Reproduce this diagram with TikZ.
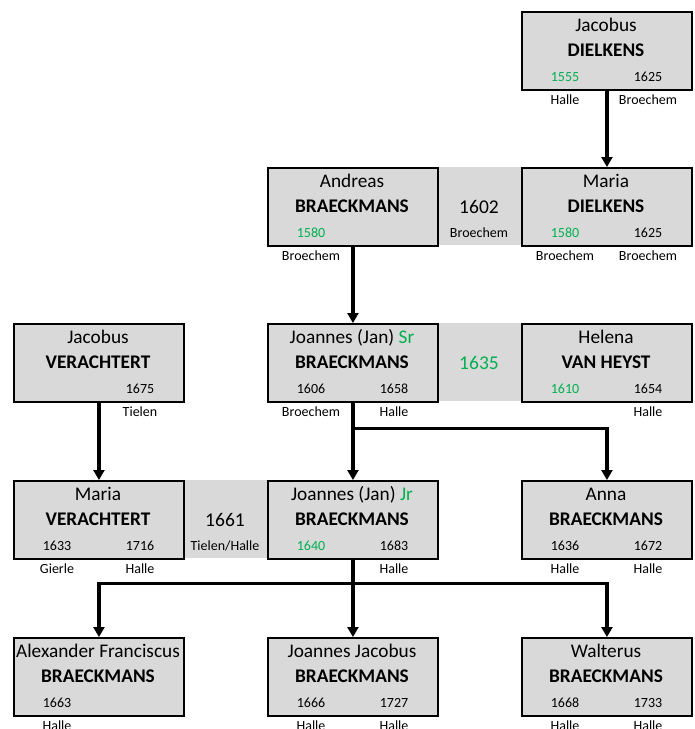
\documentclass[tikz,border=0pt]{standalone}
\usepackage{fontspec}
\setmainfont{Carlito}
\usetikzlibrary{arrows.meta,calc}
\definecolor{boxgray}{HTML}{D9D9D9}
\definecolor{grn}{HTML}{00B050}
\tikzset{
 pbox/.style={draw=black, line width=1.9pt, fill=boxgray, minimum width=170pt, minimum height=78pt, anchor=north west, inner sep=0pt},
 mbox/.style={fill=boxgray, minimum width=84pt, minimum height=78pt, anchor=north west, inner sep=0pt},
 nm/.style={font=\fontsize{19.3}{21}\selectfont, inner sep=0pt, anchor=base},
 sn/.style={font=\fontsize{19.3}{21}\selectfont\bfseries, inner sep=0pt, anchor=base},
 dt/.style={font=\fontsize{14}{16}\selectfont, inner sep=0pt, anchor=base},
 myr/.style={font=\fontsize{19.5}{21}\selectfont, inner sep=0pt, anchor=base},
 link/.style={line width=3.1pt},
 conn/.style={line width=3.1pt, -{Triangle[width=11pt,length=10pt]}},
}
% #1 id, #2 x, #3 y, #4 first, #5 surname, #6 ldate, #7 rdate, #8 lplace, #9 rplace
\newcommand{\pers}[9]{%
 \node[pbox] (#1) at (#2,#3) {};
 \node[nm] (#1-n) at ({#2+85},{#3+20}) {#4};
 \node[sn] (#1-s) at ({#2+85},{#3+45.5}) {#5};
 \node[dt] (#1-a) at ({#2+44},{#3+70.5}) {#6};
 \node[dt] (#1-b) at ({#2+127},{#3+70.5}) {#7};
 \node[dt] (#1-c) at ({#2+44},{#3+93}) {#8};
 \node[dt] (#1-d) at ({#2+127},{#3+93}) {#9};
}
\newcommand{\marr}[5]{%
 \node[mbox] (#1) at (#2,#3) {};
 \node[myr] (#1-y) at ({#2+42},{#3+46}) {#4};
 \node[dt] (#1-p) at ({#2+42},{#3+70}) {#5};
}
\begin{document}
\begin{tikzpicture}[x=1pt,y=-1pt]
\useasboundingbox (0,0) rectangle (695,729);
\marr{m1}{437}{167}{1602}{Broechem}
\marr{m2}{437}{323}{\textcolor{grn}{1635}}{}
\marr{m3}{183}{480}{1661}{Tielen/Halle}
\pers{jd}{521}{11}{Jacobus}{DIELKENS}{\textcolor{grn}{1555}}{1625}{Halle}{Broechem}
\pers{ab}{267}{167}{Andreas}{BRAECKMANS}{\textcolor{grn}{1580}}{}{Broechem}{}
\pers{md}{521}{167}{Maria}{DIELKENS}{\textcolor{grn}{1580}}{1625}{Broechem}{Broechem}
\pers{jv}{13}{323}{Jacobus}{VERACHTERT}{}{1675}{}{Tielen}
\pers{js}{267}{323}{Joannes (Jan) \textcolor{grn}{Sr}}{BRAECKMANS}{1606}{1658}{Broechem}{Halle}
\pers{hv}{521}{323}{Helena}{VAN HEYST}{\textcolor{grn}{1610}}{1654}{}{Halle}
\pers{mv}{13}{480}{Maria}{VERACHTERT}{1633}{1716}{Gierle}{Halle}
\pers{jj}{267}{480}{Joannes (Jan) \textcolor{grn}{Jr}}{BRAECKMANS}{\textcolor{grn}{1640}}{1683}{}{Halle}
\pers{an}{521}{480}{Anna}{BRAECKMANS}{1636}{1672}{Halle}{Halle}
\pers{af}{13}{637}{Alexander Franciscus}{BRAECKMANS}{1663}{}{Halle}{}
\pers{jc}{267}{637}{Joannes Jacobus}{BRAECKMANS}{1666}{1727}{Halle}{Halle}
\pers{wa}{521}{637}{Walterus}{BRAECKMANS}{1668}{1733}{Halle}{Halle}
% connectors
\draw[conn] (jd.south) -- (md.north);
\draw[conn] (ab.south) -- (js.north);
\draw[conn] (jv.south) -- (mv.north);
\draw[conn] (js.south) -- (jj.north);
\coordinate (b1) at ($(js.south)+(0,26)$);
\draw[conn] (b1) -| (an.north);
\coordinate (b2) at ($(jj.south)+(0,24)$);
\draw[link] (jj.south) -- (b2);
\draw[conn] (b2) -| (af.north);
\draw[conn] (b2) -| (wa.north);
\draw[conn] (b2) -- (jc.north);
\end{tikzpicture}
\end{document}
